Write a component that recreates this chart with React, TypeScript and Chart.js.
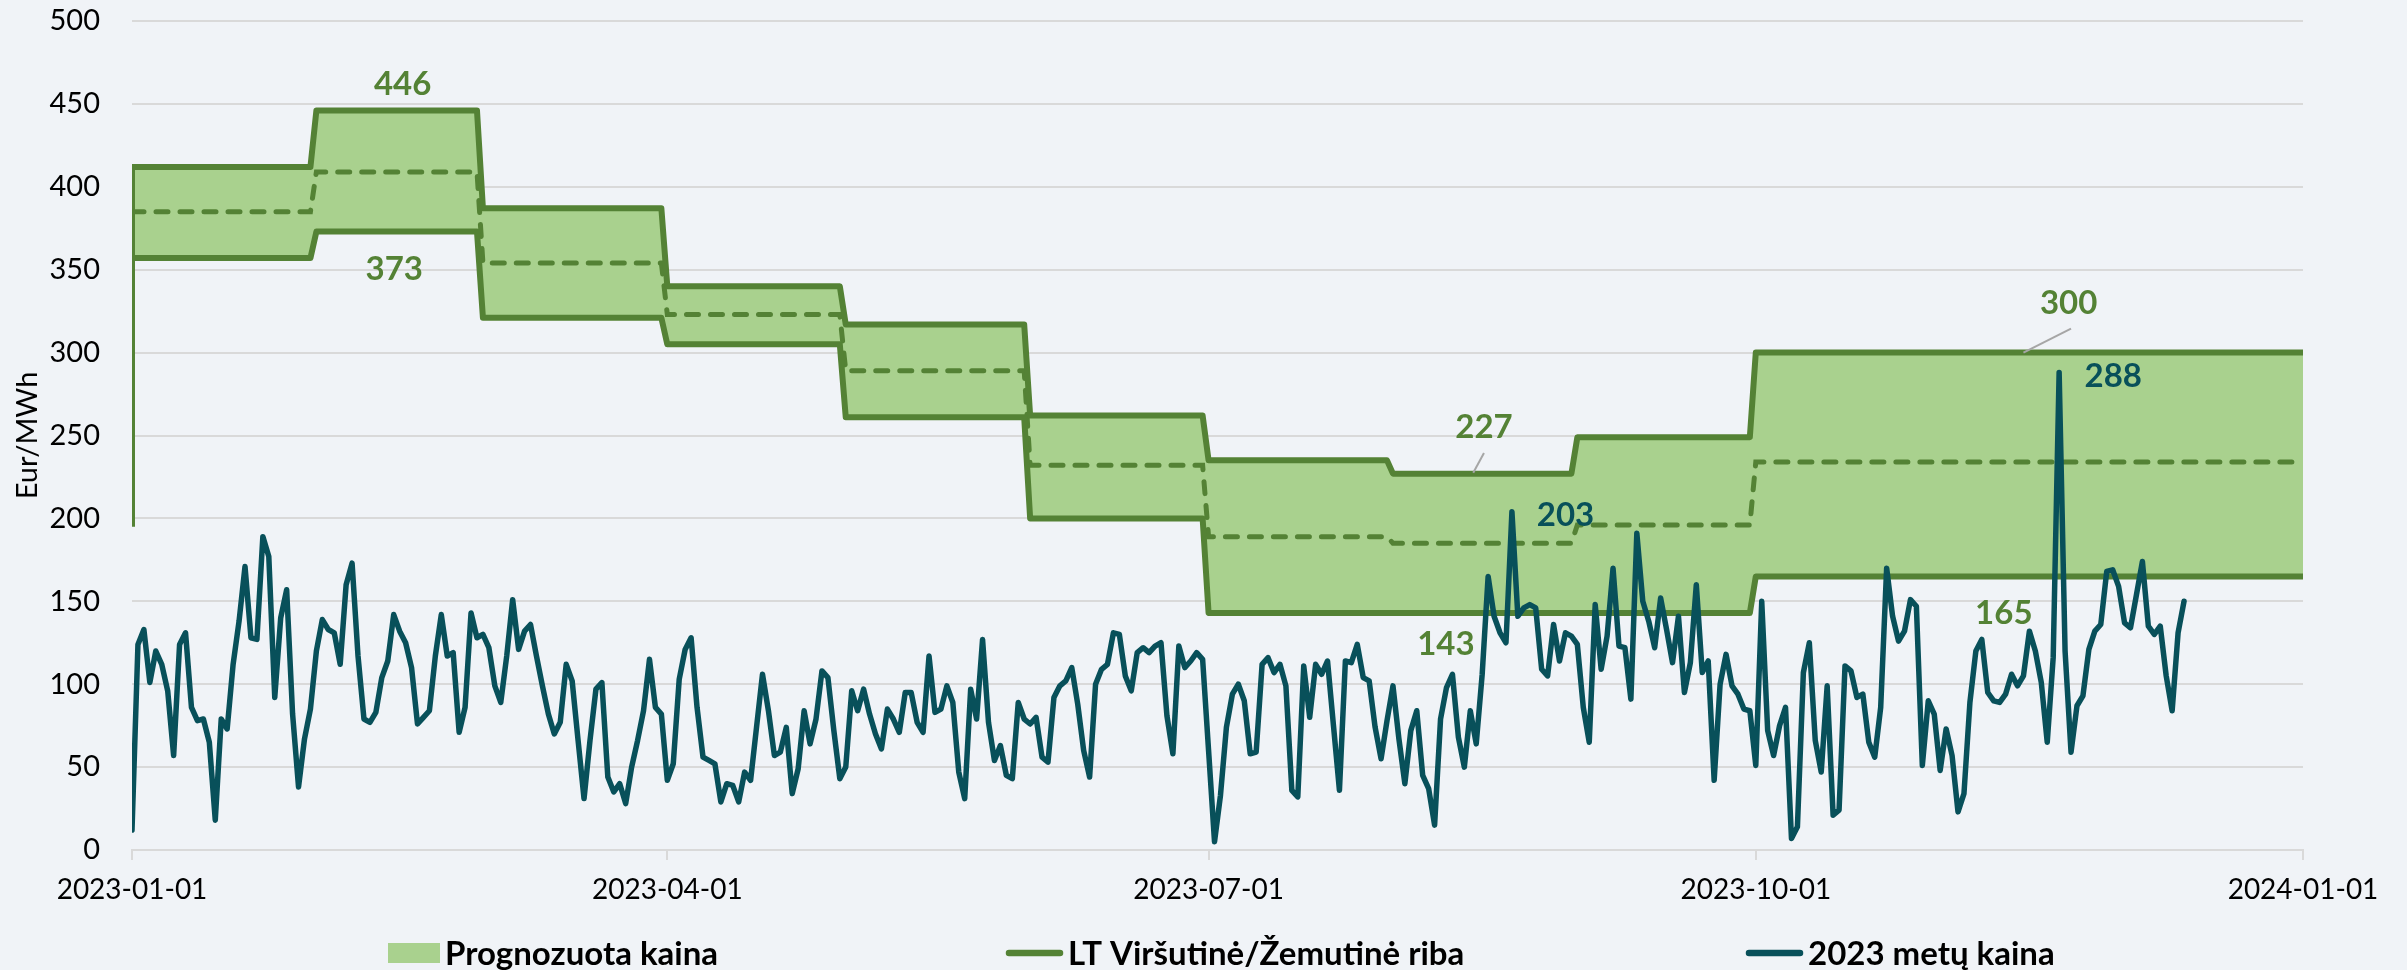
import React, { useEffect, useRef } from "react";
import { Chart, registerables } from "chart.js";

Chart.register(...registerables);

// ---------- axis data ----------
const TICK_DAYS = [0, 90, 181, 273, 365];
const TICK_LABELS = ["2023-01-01", "2023-04-01", "2023-07-01", "2023-10-01", "2024-01-01"];
const Y_MIN = 0;
const Y_MAX = 500;
const Y_STEP = 50;
const Y_TITLE = "Eur/MWh";

// ---------- forecast band (monthly periods, day index from 2023-01-01) ----------
const PERIOD_START = [0, 31, 59, 90, 120, 151, 181, 212, 243, 273];
const PERIOD_END_LAST = 365;
const UPPER = [412, 446, 387, 340, 317, 262, 235, 227, 249, 300];
const LOWER = [357, 373, 321, 305, 261, 200, 143, 143, 143, 165];
const MIDDLE = [385, 409, 354, 323, 289, 232, 189, 185, 196, 234];
const UPPER_FIRST = 195;

// ---------- 2023 daily price ----------
const PRICE_JAN = [12, 124, 133, 101, 120, 112, 96, 57, 124, 131, 86, 78, 79, 65, 18, 79, 73, 112, 138, 171, 128, 127, 189, 177, 92, 140, 157, 82, 38, 67, 85];
const PRICE_FEB = [120, 139, 133, 131, 112, 160, 173, 117, 79, 77, 83, 104, 114, 142, 132, 125, 110, 76, 80, 84, 117, 142, 117, 119, 71, 86, 143, 128];
const PRICE_MAR = [130, 122, 99, 89, 117, 151, 121, 132, 136, 117, 99, 82, 70, 77, 112, 102, 66, 31, 66, 97, 101, 44, 35, 40, 28, 50, 66, 84, 115, 86, 82];
const PRICE_APR = [42, 52, 103, 121, 128, 86, 56, 54, 52, 29, 40, 39, 29, 47, 42, 74, 106, 84, 57, 59, 74, 34, 49, 84, 64, 79, 108, 104, 72, 43];
const PRICE_MAY = [50, 96, 84, 97, 82, 70, 61, 85, 79, 71, 95, 95, 77, 71, 117, 83, 85, 99, 89, 47, 31, 97, 79, 127, 77, 54, 63, 45, 43, 89, 79];
const PRICE_JUN = [76, 80, 56, 53, 92, 99, 102, 110, 88, 60, 44, 100, 109, 112, 131, 130, 105, 96, 119, 122, 119, 123, 125, 81, 58, 123, 110, 114, 119, 115];
const PRICE_JUL = [60, 5, 33, 74, 94, 100, 90, 58, 59, 112, 116, 107, 112, 99, 36, 32, 111, 80, 112, 106, 114, 75, 36, 114, 113, 124, 104, 102, 74, 55, 78];
const PRICE_AUG = [99, 67, 40, 72, 84, 45, 37, 15, 79, 98, 106, 68, 50, 84, 64, 106, 165, 141, 131, 125, 204, 141, 146, 148, 146, 109, 105, 136, 114, 131, 129];
const PRICE_SEP = [124, 86, 65, 148, 109, 129, 170, 123, 122, 91, 191, 150, 138, 122, 152, 133, 113, 141, 95, 113, 160, 107, 114, 42, 100, 118, 99, 94, 85, 84];
const PRICE_OCT = [51, 150, 72, 57, 75, 86, 7, 14, 107, 125, 66, 47, 99, 21, 24, 111, 108, 92, 94, 65, 56, 86, 170, 141, 126, 132, 151, 147, 51, 90, 82];
const PRICE_NOV = [48, 73, 57, 23, 34, 89, 120, 127, 95, 90, 89, 94, 106, 99, 105, 132, 120, 101, 65, 116, 288, 120, 59, 87, 93, 121, 132, 136, 168, 169];
const PRICE_DEC = [159, 137, 134, 154, 174, 135, 130, 135, 105, 84, 131, 150];

// ---------- value labels (day index, value, text) ----------
const LABEL_TEXT = ["446", "373", "227", "143", "203", "300", "288", "165"];
const LABEL_DAY = [45.5, 44.1, 227.3, 220.9, 241.0, 325.6, 333.1, 314.7];
const LABEL_VALUE = [462.3, 351.2, 255.6, 124.6, 202.6, 330.4, 286.4, 143.5];
const LABEL_SERIES = ["band", "band", "band", "band", "price", "band", "price", "band"];
const LEADER_FROM_DAY = [225.5, 318];
const LEADER_FROM_VALUE = [227.5, 300];
const LEADER_TO_DAY = [227.3, 326];
const LEADER_TO_VALUE = [239.5, 314.5];

// ---------- legend ----------
const LEGEND_TEXT = ["Prognozuota kaina", "LT Viršutinė/Žemutinė riba", "2023 metų kaina"];

// ---------- styles ----------
const BG = "#F0F3F7";
const FILL_GREEN = "#A9D18E";
const LINE_GREEN = "#548235";
const TEAL = "#08505A";
const GRID = "#D9D9D9";
const FONT = "Lato, 'Noto Sans', sans-serif";
const LEGEND_X = [388, 1006, 1746];
const LEGEND_Y = 953;

function stepPoints(values: number[]) {
  const pts: { x: number; y: number }[] = [];
  values.forEach((v, i) => {
    const s = PERIOD_START[i];
    const e = i < values.length - 1 ? PERIOD_START[i + 1] - 1 : PERIOD_END_LAST;
    pts.push({ x: s, y: v }, { x: e, y: v });
  });
  return pts;
}

const PRICE = [
  ...PRICE_JAN, ...PRICE_FEB, ...PRICE_MAR, ...PRICE_APR, ...PRICE_MAY, ...PRICE_JUN,
  ...PRICE_JUL, ...PRICE_AUG, ...PRICE_SEP, ...PRICE_OCT, ...PRICE_NOV, ...PRICE_DEC,
];

const valueLabelsPlugin = {
  id: "valueLabels",
  afterDatasetsDraw(chart: any) {
    const { ctx, scales } = chart;
    const xs = scales.x;
    const ys = scales.y;
    ctx.save();
    ctx.strokeStyle = "#A6A6A6";
    ctx.lineWidth = 2;
    for (let i = 0; i < LEADER_FROM_DAY.length; i++) {
      ctx.beginPath();
      ctx.moveTo(xs.getPixelForValue(LEADER_FROM_DAY[i]), ys.getPixelForValue(LEADER_FROM_VALUE[i]));
      ctx.lineTo(xs.getPixelForValue(LEADER_TO_DAY[i]), ys.getPixelForValue(LEADER_TO_VALUE[i]));
      ctx.stroke();
    }
    const size = 33;
    ctx.font = `bold ${size}px ${FONT}`;
    ctx.textAlign = "center";
    ctx.textBaseline = "alphabetic";
    for (let i = 0; i < LABEL_TEXT.length; i++) {
      ctx.fillStyle = LABEL_SERIES[i] === "price" ? TEAL : LINE_GREEN;
      const x = xs.getPixelForValue(LABEL_DAY[i]);
      const y = ys.getPixelForValue(LABEL_VALUE[i]);
      ctx.fillText(LABEL_TEXT[i], x, y + size * 0.36);
    }
    ctx.restore();
  },
};

const legendPlugin = {
  id: "customLegend",
  afterDraw(chart: any) {
    const { ctx } = chart;
    ctx.save();
    const size = 33;
    ctx.font = `bold ${size}px ${FONT}`;
    const symW = [52, 57, 57];
    const textGap = 5;
    const y = LEGEND_Y;
    LEGEND_TEXT.forEach((t, i) => {
      const x = LEGEND_X[i];
      if (i === 0) {
        ctx.fillStyle = FILL_GREEN;
        ctx.fillRect(x, y - 10, symW[i], 20);
      } else {
        ctx.strokeStyle = i === 1 ? LINE_GREEN : TEAL;
        ctx.lineWidth = 6.5;
        ctx.lineCap = "round";
        ctx.beginPath();
        ctx.moveTo(x + 3, y);
        ctx.lineTo(x + symW[i] - 3, y);
        ctx.stroke();
      }
      ctx.fillStyle = "#000";
      ctx.textAlign = "left";
      ctx.textBaseline = "alphabetic";
      ctx.fillText(t, x + symW[i] + textGap, y + size * 0.36);
    });
    ctx.restore();
  },
};

export default function App() {
  const canvasRef = useRef<HTMLCanvasElement | null>(null);

  useEffect(() => {
    if (!canvasRef.current) return;
    const upperPts = [{ x: 0, y: UPPER_FIRST }, ...stepPoints(UPPER)];
    const lowerPts = stepPoints(LOWER);
    const midPts = stepPoints(MIDDLE);
    const pricePts = PRICE.map((v, i) => ({ x: i, y: v }));

    const chart = new Chart(canvasRef.current, {
      type: "line",
      data: {
        datasets: [
          {
            label: LEGEND_TEXT[2],
            data: pricePts,
            borderColor: TEAL,
            borderWidth: 5.5,
            pointRadius: 0,
            tension: 0,
            fill: false,
            borderJoinStyle: "round",
            borderCapStyle: "round",
            order: 0,
          },
          {
            label: LEGEND_TEXT[1],
            data: upperPts,
            borderColor: LINE_GREEN,
            borderWidth: 6,
            pointRadius: 0,
            tension: 0,
            fill: false,
            borderJoinStyle: "round",
            order: 1,
          },
          {
            label: LEGEND_TEXT[0],
            data: lowerPts,
            borderColor: LINE_GREEN,
            backgroundColor: FILL_GREEN,
            borderWidth: 6,
            pointRadius: 0,
            tension: 0,
            fill: 1,
            borderJoinStyle: "round",
            order: 2,
          },
          {
            label: "Vidurkis",
            data: midPts,
            borderColor: LINE_GREEN,
            borderWidth: 5,
            borderDash: [12, 12],
            borderCapStyle: "round",
            pointRadius: 0,
            tension: 0,
            fill: false,
            order: 3,
          },
        ],
      } as any,
      options: {
        responsive: false,
        animation: false,
        maintainAspectRatio: false,
        layout: { padding: { top: 21, right: 104, bottom: 0, left: 0 } },
        plugins: {
          legend: { display: false },
          tooltip: { enabled: false },
          filler: { drawTime: "beforeDatasetsDraw" },
        } as any,
        scales: {
          x: {
            type: "linear",
            min: TICK_DAYS[0],
            max: TICK_DAYS[TICK_DAYS.length - 1],
            afterBuildTicks: (scale: any) => {
              scale.ticks = TICK_DAYS.map((v) => ({ value: v }));
            },
            afterFit: (scale: any) => {
              scale.height = 120;
            },
            ticks: {
              autoSkip: false,
              maxRotation: 0,
              padding: 13,
              color: "#000",
              font: { family: FONT, size: 28 },
              callback: (_v: any, i: number) => TICK_LABELS[i],
            },
            grid: {
              drawOnChartArea: false,
              drawTicks: true,
              tickLength: 10,
              color: GRID,
              lineWidth: 2,
            },
            border: { display: true, color: GRID, width: 2 },
          },
          y: {
            min: Y_MIN,
            max: Y_MAX,
            afterFit: (scale: any) => {
              scale.width = 132;
              scale.paddingTop = 0;
              scale.paddingBottom = 0;
            },
            ticks: {
              stepSize: Y_STEP,
              padding: 32,
              color: "#000",
              font: { family: FONT, size: 29 },
            },
            grid: { color: GRID, lineWidth: 2, drawTicks: false },
            border: { display: false },
            title: {
              display: true,
              text: Y_TITLE,
              color: "#000",
              font: { family: FONT, size: 29 },
              padding: { top: 10, bottom: 0 },
            },
          },
        },
      } as any,
      plugins: [valueLabelsPlugin, legendPlugin],
    });
    return () => chart.destroy();
  }, []);

  return (
    <div
      style={{
        position: "fixed",
        left: 0,
        top: 0,
        width: 2407,
        height: 970,
        background: BG,
      }}
    >
      <canvas ref={canvasRef} width={2407} height={970} style={{ width: 2407, height: 970, display: "block" }} />
    </div>
  );
}
